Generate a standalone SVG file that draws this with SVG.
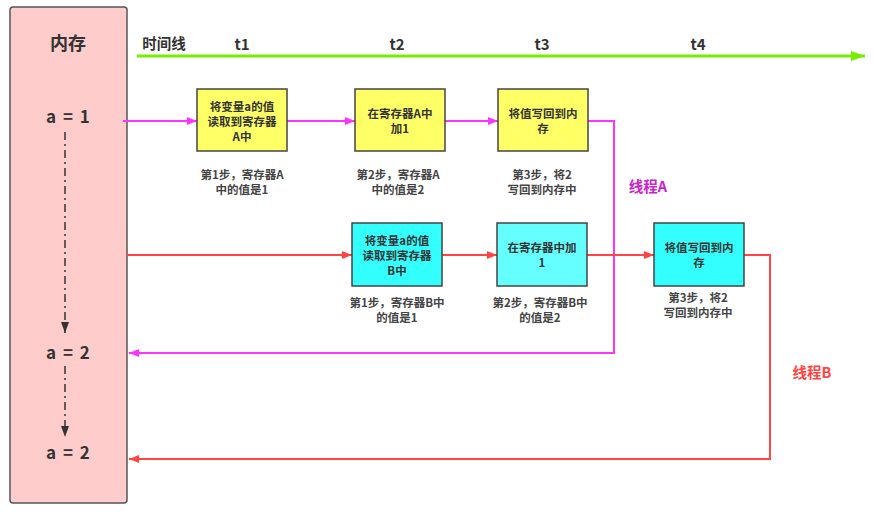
<svg xmlns="http://www.w3.org/2000/svg" width="874" height="516" viewBox="0 0 874 516">
<style>
text{font-family:"Noto Sans CJK SC","Liberation Sans",sans-serif;font-weight:bold;text-anchor:middle;fill:#333}
.bx{font-size:11.5px}
.lb{font-size:11.5px;fill:#444}
.mem{font-size:17px;word-spacing:3px}
.yel{fill:#ffff66;stroke:#444;stroke-width:1.5}
.cyn{fill:#33ffff;stroke:#444;stroke-width:1.5}
.cyn2{fill:#66ffff;stroke:#444;stroke-width:1.5}
.mg{stroke:#ff33ff;stroke-width:2;fill:none}
.rd{stroke:#ff4444;stroke-width:2;fill:none}
.dd{stroke:#333;stroke-width:1.5;stroke-dasharray:8,4,2,4}
</style>
<defs>
<marker id="am" markerWidth="10" markerHeight="8" refX="10" refY="4" orient="auto" markerUnits="userSpaceOnUse"><path d="M0,0 L10,4 L0,8 Z" fill="#ff33ff"/></marker>
<marker id="ar" markerWidth="10" markerHeight="8" refX="10" refY="4" orient="auto" markerUnits="userSpaceOnUse"><path d="M0,0 L10,4 L0,8 Z" fill="#ff4444"/></marker>
<marker id="ag" markerWidth="14" markerHeight="10" refX="14" refY="5" orient="auto" markerUnits="userSpaceOnUse"><path d="M0,0 L14,5 L0,10 Z" fill="#77ee00"/></marker>
<marker id="ak" markerWidth="11" markerHeight="8" refX="11" refY="4" orient="auto" markerUnits="userSpaceOnUse"><path d="M0,0 L11,4 L0,8 Z" fill="#333"/></marker>
</defs>
<g id="memory">
<rect x="10" y="7" width="117" height="496" rx="3" fill="#ffcccc" stroke="#555" stroke-width="1.5"/>
<text x="68" y="50" style="font-size:18px">内存</text>
<text class="mem" x="68" y="123">a = 1</text>
<text class="mem" x="68" y="359">a = 2</text>
<text class="mem" x="68" y="459">a = 2</text>
</g>
<g id="timeline">
<text x="164" y="49" style="font-size:14.5px">时间线</text>
<text x="242" y="50" style="font-size:15px">t1</text>
<text x="397" y="50" style="font-size:15px">t2</text>
<text x="542" y="50" style="font-size:15px">t3</text>
<text x="698" y="50" style="font-size:15px">t4</text>
</g>
<g id="connectors">
<line x1="137" y1="56" x2="865" y2="56" stroke="#77ee00" stroke-width="3" marker-end="url(#ag)"/>
<line class="dd" x1="65" y1="132" x2="65" y2="333" marker-end="url(#ak)"/>
<line class="dd" x1="65" y1="366" x2="65" y2="437" marker-end="url(#ak)"/>
<line class="mg" x1="123" y1="121" x2="197" y2="121" marker-end="url(#am)"/>
<line class="mg" x1="287" y1="121" x2="355" y2="121" marker-end="url(#am)"/>
<line class="mg" x1="445" y1="121" x2="498" y2="121" marker-end="url(#am)"/>
<polyline class="mg" points="588,121 614,121 614,353 129,353" marker-end="url(#am)"/>
<line class="rd" x1="127" y1="255" x2="352" y2="255" marker-end="url(#ar)"/>
<line class="rd" x1="442" y1="255" x2="497" y2="255" marker-end="url(#ar)"/>
<line class="rd" x1="587" y1="255" x2="654" y2="255" marker-end="url(#ar)"/>
<polyline class="rd" points="744,255 770,255 770,459 129,459" marker-end="url(#ar)"/>
</g>
<g id="threadA-step1">
<rect class="yel" x="197" y="89" width="90" height="62"/>
<text class="bx" x="242" y="111">将变量a的值</text>
<text class="bx" x="242" y="126">读取到寄存器</text>
<text class="bx" x="242" y="141">A中</text>
<text class="lb" x="242" y="179">第1步，寄存器A</text>
<text class="lb" x="242" y="194">中的值是1</text>
</g>
<g id="threadA-step2">
<rect class="yel" x="355" y="89" width="90" height="62"/>
<text class="bx" x="400" y="118">在寄存器A中</text>
<text class="bx" x="400" y="133">加1</text>
<text class="lb" x="398" y="179">第2步，寄存器A</text>
<text class="lb" x="398" y="194">中的值是2</text>
</g>
<g id="threadA-step3">
<rect class="yel" x="498" y="89" width="90" height="62"/>
<text class="bx" x="543" y="118">将值写回到内</text>
<text class="bx" x="543" y="133">存</text>
<text class="lb" x="542" y="179">第3步，将2</text>
<text class="lb" x="542" y="194">写回到内存中</text>
</g>
<g id="threadA-label">
<text x="648" y="192" style="font-size:14.5px;fill:#cc22cc">线程A</text>
</g>
<g id="threadB-step1">
<rect class="cyn" x="352" y="223" width="90" height="63"/>
<text class="bx" x="397" y="245">将变量a的值</text>
<text class="bx" x="397" y="260">读取到寄存器</text>
<text class="bx" x="397" y="275">B中</text>
<text class="lb" x="397" y="307">第1步，寄存器B中</text>
<text class="lb" x="397" y="322">的值是1</text>
</g>
<g id="threadB-step2">
<rect class="cyn2" x="497" y="223" width="90" height="63"/>
<text class="bx" x="542" y="252">在寄存器中加</text>
<text class="bx" x="542" y="267">1</text>
<text class="lb" x="540" y="307">第2步，寄存器B中</text>
<text class="lb" x="540" y="322">的值是2</text>
</g>
<g id="threadB-step3">
<rect class="cyn" x="654" y="223" width="90" height="63"/>
<text class="bx" x="699" y="252">将值写回到内</text>
<text class="bx" x="699" y="267">存</text>
<text class="lb" x="698" y="302">第3步，将2</text>
<text class="lb" x="698" y="317">写回到内存中</text>
</g>
<g id="threadB-label">
<text x="812" y="378" style="font-size:14.5px;fill:#ff4444">线程B</text>
</g>
</svg>
